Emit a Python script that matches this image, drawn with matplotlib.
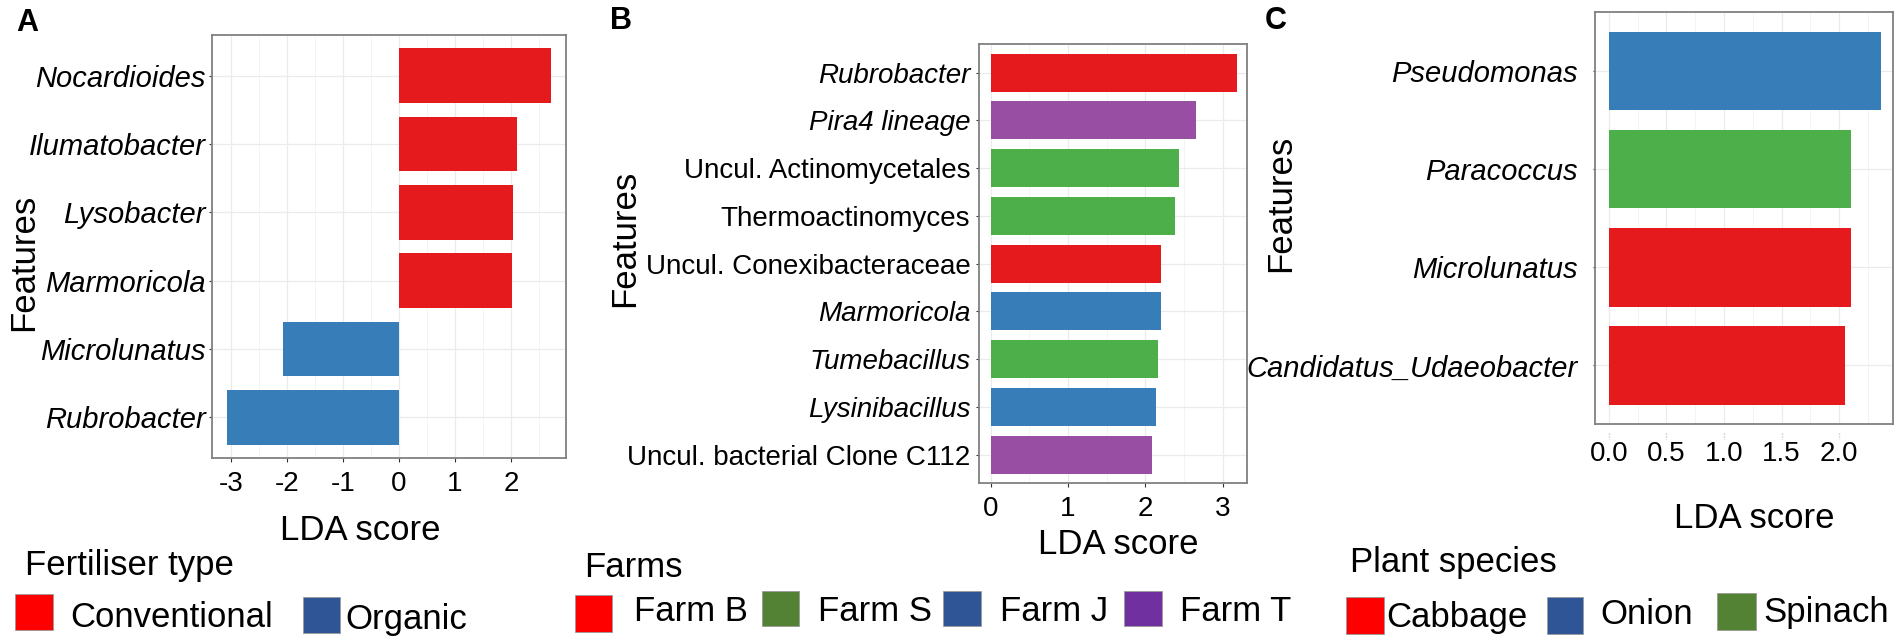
import matplotlib
matplotlib.use("Agg")
import matplotlib.pyplot as plt
from matplotlib.patches import Rectangle
import numpy as np

plt.rcParams['font.family'] = ['Liberation Sans', 'DejaVu Sans']

# ---------------- data ----------------
A_features = ['Nocardioides', 'Ilumatobacter', 'Lysobacter', 'Marmoricola', 'Microlunatus', 'Rubrobacter']
A_scores = [2.71, 2.10, 2.04, 2.02, -2.06, -3.06]
A_groups = ['Conventional', 'Conventional', 'Conventional', 'Conventional', 'Organic', 'Organic']
A_italic = [True, True, True, True, True, True]
A_ticks = [-3, -2, -1, 0, 1, 2]
A_ticklabels = ['-3', '-2', '-1', '0', '1', '2']
A_legend = ['Conventional', 'Organic']

B_features = ['Rubrobacter', 'Pira4 lineage', 'Uncul. Actinomycetales', 'Thermoactinomyces',
              'Uncul. Conexibacteraceae', 'Marmoricola', 'Tumebacillus', 'Lysinibacillus',
              'Uncul. bacterial Clone C112']
B_scores = [3.18, 2.65, 2.43, 2.38, 2.20, 2.20, 2.16, 2.14, 2.09]
B_groups = ['Farm B', 'Farm T', 'Farm S', 'Farm S', 'Farm B', 'Farm J', 'Farm S', 'Farm J', 'Farm T']
B_italic = [True, True, False, False, False, True, True, True, False]
B_ticks = [0, 1, 2, 3]
B_ticklabels = ['0', '1', '2', '3']
B_legend = ['Farm B', 'Farm S', 'Farm J', 'Farm T']

C_features = ['Pseudomonas', 'Paracoccus', 'Microlunatus', 'Candidatus_Udaeobacter']
C_scores = [2.36, 2.10, 2.10, 2.05]
C_groups = ['Onion', 'Spinach', 'Cabbage', 'Cabbage']
C_italic = [True, True, True, True]
C_ticks = [0.0, 0.5, 1.0, 1.5, 2.0]
C_ticklabels = ['0.0', '0.5', '1.0', '1.5', '2.0']
C_legend = ['Cabbage', 'Onion', 'Spinach']

# ---------------- styles ----------------
bar_colors = {'Conventional': '#E41A1C', 'Organic': '#377EB8',
              'Farm B': '#E41A1C', 'Farm S': '#4DAF4A', 'Farm J': '#377EB8', 'Farm T': '#984EA3',
              'Cabbage': '#E41A1C', 'Onion': '#377EB8', 'Spinach': '#4DAF4A'}
key_colors = {'Conventional': '#FF0000', 'Organic': '#2F5597',
              'Farm B': '#FF0000', 'Farm S': '#548235', 'Farm J': '#2F5597', 'Farm T': '#7030A0',
              'Cabbage': '#FF0000', 'Onion': '#2F5597', 'Spinach': '#548235'}

W, H = 1902, 644
fig = plt.figure(figsize=(W / 100, H / 100), dpi=100)


def fx(x):
    return x / W


def fy(y):
    return 1 - y / H


def add_ax(left, right, top, bottom):
    return fig.add_axes([fx(left), fy(bottom), (right - left) / W, (bottom - top) / H])


def panel(ax, feats, scores, groups, italic, ticks, ticklabels, xlim, minor, ylab_pad, ytick_len, yfs):
    n = len(feats)
    pos = np.arange(n)
    ax.barh(pos, scores, height=0.8, color=[bar_colors[g] for g in groups], zorder=3)
    ax.set_ylim(n - 0.4, -0.6)
    ax.set_xlim(*xlim)
    ax.set_yticks(pos)
    ax.set_yticklabels(feats, fontsize=yfs)
    for lab, it in zip(ax.get_yticklabels(), italic):
        lab.set_fontstyle('italic' if it else 'normal')
    ax.set_xticks(ticks)
    ax.set_xticklabels(ticklabels, fontsize=20)
    ax.set_xticks(minor, minor=True)
    ax.grid(True, which='major', color='#ebebeb', lw=0.9, zorder=0)
    ax.grid(True, which='minor', axis='x', color='#f2f2f2', lw=0.6, zorder=0)
    ax.set_axisbelow(True)
    for s in ax.spines.values():
        s.set_color('#808080')
        s.set_linewidth(1.3)
    ax.tick_params(axis='x', which='major', length=3, width=0.8, color='#333333', pad=6)
    ax.tick_params(axis='x', which='minor', length=0)
    ax.tick_params(axis='y', length=ytick_len, width=0.8, color='#333333', pad=ylab_pad)


axA = add_ax(212.3, 566, 34.7, 458.3)
panel(axA, A_features, A_scores, A_groups, A_italic, A_ticks, A_ticklabels,
      (-3.33, 2.98), [-2.5, -1.5, -0.5, 0.5, 1.5, 2.5], 2.0, 2.5, 21)

axB = add_ax(979.3, 1246.7, 44, 483.3)
panel(axB, B_features, B_scores, B_groups, B_italic, B_ticks, B_ticklabels,
      (-0.147, 3.31), [0.5, 1.5, 2.5], 4, 2.5, 20)

axC = add_ax(1595, 1893.3, 12.3, 424.3)
panel(axC, C_features, C_scores, C_groups, C_italic, C_ticks, C_ticklabels,
      (-0.12, 2.47), [0.25, 0.75, 1.25, 1.75, 2.25], 11, 1.5, 21)
axC.tick_params(axis='x', which='major', length=0, pad=12)
for t in C_ticks:
    axC.plot([t, t], [-0.022, -0.035], transform=axC.get_xaxis_transform(), clip_on=False,
             color='#c8c8c8', lw=1.0, ls=(0, (1, 1)))

# ---------------- panel letters ----------------
for letter, x, y in [('A', 16, 31), ('B', 610, 29), ('C', 1265, 29)]:
    fig.text(fx(x), fy(y), letter, fontsize=22, fontweight='bold', va='baseline', ha='left')

# ---------------- axis titles ----------------
for x, y in [(360, 540), (1118, 554), (1754, 528)]:
    fig.text(fx(x), fy(y), 'LDA score', fontsize=25, ha='center', va='baseline')
for x, y in [(24, 262), (625, 238), (1281, 203)]:
    fig.text(fx(x), fy(y), 'Features', fontsize=25, rotation=90, ha='center', va='center')

# ---------------- legends ----------------
def key(x0, y0, x1, y1, color):
    fig.patches.append(Rectangle((fx(x0), fy(y1)), (x1 - x0) / W, (y1 - y0) / H,
                                 transform=fig.transFigure, facecolor=color,
                                 edgecolor='#9a9a9a', lw=0.6))


# A
fig.text(fx(25), fy(575), 'Fertiliser type', fontsize=25, va='baseline')
A_keys = [(15, 594, 53, 630), (303, 597, 340, 633)]
A_text = [(70, 627), (345, 629)]
for name, k, t in zip(A_legend, A_keys, A_text):
    key(*k, key_colors[name])
    fig.text(fx(t[0]), fy(t[1]), name, fontsize=25, va='baseline')

# B
fig.text(fx(584), fy(577), 'Farms', fontsize=25, va='baseline')
B_keys = [(575, 595, 612, 632), (762, 591, 798.5, 626), (942.5, 591, 980.6, 626), (1124, 591, 1162, 626)]
B_text = [(634, 621), (818, 621), (1000, 621), (1180, 621)]
for name, k, t in zip(B_legend, B_keys, B_text):
    key(*k, key_colors[name])
    fig.text(fx(t[0]), fy(t[1]), name, fontsize=25, va='baseline')

# C
fig.text(fx(1350), fy(572), 'Plant species', fontsize=25, va='baseline')
C_keys = [(1346, 597, 1384, 634), (1547, 597, 1583, 634), (1717, 593, 1756, 630)]
C_text = [(1386, 627), (1600, 624), (1763, 622)]
for name, k, t in zip(C_legend, C_keys, C_text):
    key(*k, key_colors[name])
    fig.text(fx(t[0]), fy(t[1]), name, fontsize=25, va='baseline')

fig.savefig('out.png', dpi=100, facecolor='white')
